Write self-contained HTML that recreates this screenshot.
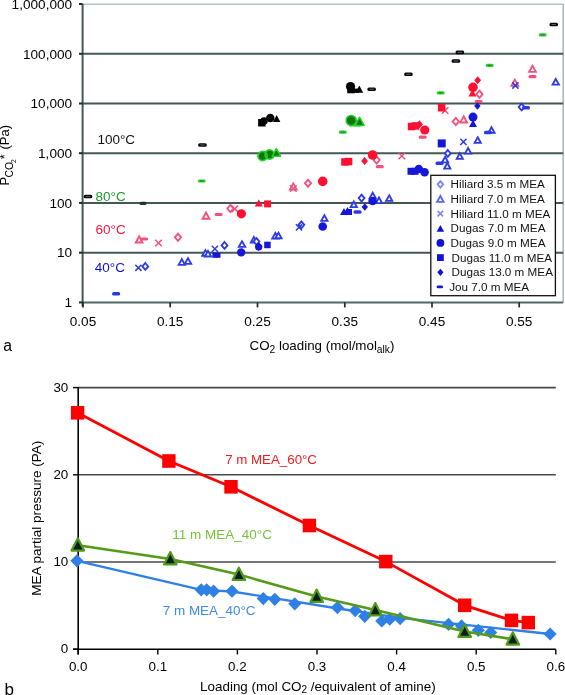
<!DOCTYPE html>
<html><head><meta charset="utf-8"><style>
html,body{margin:0;padding:0;background:#fff;}
svg{display:block;font-family:'Liberation Sans',sans-serif;filter:blur(0.35px);}

</style></head><body>
<svg width="565" height="695" viewBox="0 0 565 695" font-family="Liberation Sans, sans-serif">
<rect width="565" height="695" fill="#fff"/>
<line x1="82.6" y1="4.3" x2="563.2" y2="4.3" stroke="#b4c6c4" stroke-width="1.6"/>
<line x1="563.2" y1="4" x2="563.2" y2="302.4" stroke="#a9bdbd" stroke-width="1.6"/>
<line x1="82.6" y1="252.7" x2="563.2" y2="252.7" stroke="#435757" stroke-width="2"/>
<line x1="82.6" y1="202.9" x2="563.2" y2="202.9" stroke="#435757" stroke-width="2"/>
<line x1="82.6" y1="153.2" x2="563.2" y2="153.2" stroke="#435757" stroke-width="2"/>
<line x1="82.6" y1="103.5" x2="563.2" y2="103.5" stroke="#435757" stroke-width="2"/>
<line x1="82.6" y1="53.8" x2="563.2" y2="53.8" stroke="#435757" stroke-width="2"/>
<line x1="82.6" y1="302.4" x2="563.2" y2="302.4" stroke="#506868" stroke-width="2"/>
<line x1="82.6" y1="4" x2="82.6" y2="306.5" stroke="#435757" stroke-width="2"/>
<line x1="79" y1="302.4" x2="82.6" y2="302.4" stroke="#1e2a2a" stroke-width="2"/>
<line x1="79" y1="252.7" x2="82.6" y2="252.7" stroke="#1e2a2a" stroke-width="2"/>
<line x1="79" y1="202.9" x2="82.6" y2="202.9" stroke="#1e2a2a" stroke-width="2"/>
<line x1="79" y1="153.2" x2="82.6" y2="153.2" stroke="#1e2a2a" stroke-width="2"/>
<line x1="79" y1="103.5" x2="82.6" y2="103.5" stroke="#1e2a2a" stroke-width="2"/>
<line x1="79" y1="53.8" x2="82.6" y2="53.8" stroke="#1e2a2a" stroke-width="2"/>
<line x1="79" y1="4.0" x2="82.6" y2="4.0" stroke="#1e2a2a" stroke-width="2"/>
<line x1="83.0" y1="302.4" x2="83.0" y2="307.4" stroke="#1e2a2a" stroke-width="1.7"/>
<line x1="170.2" y1="302.4" x2="170.2" y2="307.4" stroke="#1e2a2a" stroke-width="1.7"/>
<line x1="257.5" y1="302.4" x2="257.5" y2="307.4" stroke="#1e2a2a" stroke-width="1.7"/>
<line x1="344.8" y1="302.4" x2="344.8" y2="307.4" stroke="#1e2a2a" stroke-width="1.7"/>
<line x1="432.0" y1="302.4" x2="432.0" y2="307.4" stroke="#1e2a2a" stroke-width="1.7"/>
<line x1="519.2" y1="302.4" x2="519.2" y2="307.4" stroke="#1e2a2a" stroke-width="1.7"/>
<text x="72.1" y="307.1" text-anchor="end" font-size="13.6">1</text>
<text x="72.1" y="257.4" text-anchor="end" font-size="13.6">10</text>
<text x="72.1" y="207.6" text-anchor="end" font-size="13.6">100</text>
<text x="72.1" y="157.9" text-anchor="end" font-size="13.6">1,000</text>
<text x="72.1" y="108.2" text-anchor="end" font-size="13.6">10,000</text>
<text x="72.1" y="58.5" text-anchor="end" font-size="13.6">100,000</text>
<text x="72.1" y="8.7" text-anchor="end" font-size="13.6">1,000,000</text>
<text x="83.0" y="326" text-anchor="middle" font-size="13.6">0.05</text>
<text x="170.2" y="326" text-anchor="middle" font-size="13.6">0.15</text>
<text x="257.5" y="326" text-anchor="middle" font-size="13.6">0.25</text>
<text x="344.8" y="326" text-anchor="middle" font-size="13.6">0.35</text>
<text x="432.0" y="326" text-anchor="middle" font-size="13.6">0.45</text>
<text x="519.2" y="326" text-anchor="middle" font-size="13.6">0.55</text>
<text x="249.5" y="350.2" font-size="13.35">CO<tspan font-size="10.3" dy="2.6">2</tspan><tspan dy="-2.6"> loading (mol/mol</tspan><tspan font-size="10.3" dy="2.3">alk</tspan><tspan dy="-2.3">)</tspan></text>
<g transform="rotate(-90)" font-size="13"><text x="-185.6" y="9.0">P</text><text x="-177.6" y="12.7" font-size="10.4">CO</text><text x="-162.9" y="15.9" font-size="6.6">2</text><text x="-159.2" y="8.6">*</text><text x="-149.6" y="9.0">(Pa)</text></g>
<text x="3.3" y="351.2" font-size="15.8">a</text>
<text x="97.4" y="143.8" font-size="13.5" fill="#111">100°C</text>
<text x="95.6" y="200.8" font-size="13.5" fill="#1c9a2a">80°C</text>
<text x="95.6" y="234.2" font-size="13.5" fill="#f5143f">60°C</text>
<text x="94.8" y="272.2" font-size="13.5" fill="#1010d0">40°C</text>
<rect x="83.8" y="194.7" width="8.5" height="3.6" rx="1.5" fill="#050505"/><rect x="85.8" y="195.9" width="4.5" height="1.2" fill="#555"/>
<rect x="198.2" y="143.2" width="8.5" height="3.6" rx="1.5" fill="#050505"/><rect x="200.2" y="144.4" width="4.5" height="1.2" fill="#555"/>
<rect x="367.4" y="87.5" width="8.5" height="3.6" rx="1.5" fill="#050505"/><rect x="369.4" y="88.7" width="4.5" height="1.2" fill="#555"/>
<rect x="404.2" y="72.5" width="8.5" height="3.6" rx="1.5" fill="#050505"/><rect x="406.2" y="73.7" width="4.5" height="1.2" fill="#555"/>
<rect x="451.6" y="59.2" width="8.5" height="3.6" rx="1.5" fill="#050505"/><rect x="453.6" y="60.4" width="4.5" height="1.2" fill="#555"/>
<rect x="455.6" y="50.6" width="8.5" height="3.6" rx="1.5" fill="#050505"/><rect x="457.6" y="51.8" width="4.5" height="1.2" fill="#555"/>
<rect x="549.5" y="22.7" width="8.5" height="3.6" rx="1.5" fill="#050505"/><rect x="551.5" y="23.9" width="4.5" height="1.2" fill="#555"/>
<rect x="258.1" y="119.0" width="7.5" height="7.5" fill="#050505"/>
<circle cx="264" cy="121" r="3.8" fill="#050505"/>
<circle cx="270.3" cy="118" r="4.2" fill="#050505"/>
<polygon points="276.6,115.1 280.4,121.9 272.9,121.9" fill="#050505"/>
<circle cx="350.5" cy="86.6" r="4.6" fill="#050505"/>
<rect x="347.2" y="85.8" width="7.5" height="7.5" fill="#050505"/>
<polygon points="359.3,85.6 363.3,92.8 355.3,92.8" fill="#050505"/>
<rect x="353" y="88.6" width="6" height="4.2" fill="#050505"/>
<rect x="139.5" y="201.7" width="7" height="3.4" rx="1.5" fill="#1d3a20"/>
<rect x="197.8" y="179.4" width="8" height="3.2" rx="1.5" fill="#2fd02f"/><rect x="199.8" y="180.4" width="4" height="1.2" fill="#1f8a25"/>
<rect x="338.8" y="130.5" width="8" height="3.2" rx="1.5" fill="#2fd02f"/><rect x="340.8" y="131.5" width="4" height="1.2" fill="#1f8a25"/>
<rect x="436.7" y="91.3" width="8" height="3.2" rx="1.5" fill="#2fd02f"/><rect x="438.7" y="92.3" width="4" height="1.2" fill="#1f8a25"/>
<rect x="485.7" y="63.8" width="8" height="3.2" rx="1.5" fill="#2fd02f"/><rect x="487.7" y="64.8" width="4" height="1.2" fill="#1f8a25"/>
<rect x="538.7" y="33.3" width="8" height="3.2" rx="1.5" fill="#2fd02f"/><rect x="540.7" y="34.3" width="4" height="1.2" fill="#1f8a25"/>
<path d="M258,156 a4.6,4.6 0 1 1 9.2,0 a4.6,4.6 0 0 1 -9.2,0 Z M265,154.5 a4.6,4.6 0 1 1 9.2,0 a4.6,4.6 0 0 1 -9.2,0 Z" fill="#0e7414" stroke="#22d022" stroke-width="1.6"/>
<polygon points="276.4,148.6 280.6,156.2 272.2,156.2" fill="#0e7414" stroke="#22d022" stroke-width="1.5" stroke-linejoin="round"/>
<rect x="350" y="120.8" width="10" height="5" fill="#0e7414" stroke="#22d022" stroke-width="1.4"/>
<circle cx="351.2" cy="120.4" r="5.0" fill="#0e7414" stroke="#22d022" stroke-width="1.5"/>
<polygon points="359.6,117.2 364.2,125.6 355,125.6" fill="#0e7414" stroke="#22d022" stroke-width="1.5" stroke-linejoin="round"/>
<polygon points="139.1,236.3 142.5,242.5 135.7,242.5" fill="#fff" stroke="#f2517c" stroke-width="1.85"/>
<polygon points="206.0,212.5 209.4,218.7 202.6,218.7" fill="#fff" stroke="#f2517c" stroke-width="1.85"/>
<polygon points="293.3,183.4 296.7,189.6 289.9,189.6" fill="#fff" stroke="#f2517c" stroke-width="1.85"/>
<polygon points="463.7,116.3 467.1,122.5 460.3,122.5" fill="#fff" stroke="#f2517c" stroke-width="1.85"/>
<polygon points="514.8,79.6 518.2,85.8 511.4,85.8" fill="#fff" stroke="#f2517c" stroke-width="1.85"/>
<polygon points="532.5,65.7 535.9,71.9 529.1,71.9" fill="#fff" stroke="#f2517c" stroke-width="1.85"/>
<polygon points="178.0,233.7 181.1,237.3 178.0,240.9 174.9,237.3" fill="#fff" stroke="#f2517c" stroke-width="1.85"/>
<polygon points="230.4,204.9 233.5,208.5 230.4,212.1 227.3,208.5" fill="#fff" stroke="#f2517c" stroke-width="1.85"/>
<polygon points="308.0,179.6 311.1,183.2 308.0,186.8 304.9,183.2" fill="#fff" stroke="#f2517c" stroke-width="1.85"/>
<polygon points="376.6,156.4 379.7,160.0 376.6,163.6 373.5,160.0" fill="#fff" stroke="#f2517c" stroke-width="1.85"/>
<polygon points="455.8,117.9 458.9,121.5 455.8,125.1 452.7,121.5" fill="#fff" stroke="#f2517c" stroke-width="1.85"/>
<polygon points="479.5,90.6 482.6,94.2 479.5,97.8 476.4,94.2" fill="#fff" stroke="#f2517c" stroke-width="1.85"/>
<path d="M155.2,239.7L161.8,246.3M161.8,239.7L155.2,246.3" stroke="#f2517c" stroke-width="1.5" fill="none"/>
<path d="M231.6,205.5L238.2,212.1M238.2,205.5L231.6,212.1" stroke="#f2517c" stroke-width="1.5" fill="none"/>
<path d="M290.0,185.2L296.6,191.8M296.6,185.2L290.0,191.8" stroke="#f2517c" stroke-width="1.5" fill="none"/>
<path d="M398.5,152.7L405.1,159.3M405.1,152.7L398.5,159.3" stroke="#f2517c" stroke-width="1.5" fill="none"/>
<path d="M441.8,107.2L448.4,113.8M448.4,107.2L441.8,113.8" stroke="#f2517c" stroke-width="1.5" fill="none"/>
<rect x="140.1" y="237.4" width="8" height="3.2" rx="1.5" fill="#f2517c"/>
<rect x="214.6" y="212.9" width="8" height="3.2" rx="1.5" fill="#f2517c"/>
<rect x="375.8" y="165.0" width="8" height="3.2" rx="1.5" fill="#f2517c"/>
<rect x="418.7" y="135.5" width="8" height="3.2" rx="1.5" fill="#f2517c"/>
<rect x="474.6" y="99.9" width="8" height="3.2" rx="1.5" fill="#f2517c"/>
<rect x="528.5" y="75.0" width="8" height="3.2" rx="1.5" fill="#f2517c"/>
<circle cx="241.4" cy="213.8" r="4.6" fill="#ff1030"/>
<polygon points="258.8,199.3 262.8,206.5 254.8,206.5" fill="#ff1030"/>
<rect x="264.1" y="200.4" width="7" height="7" fill="#ff1030"/>
<circle cx="322.7" cy="181.4" r="4.8" fill="#ff1030"/>
<rect x="341.2" y="158.2" width="7.5" height="7.5" fill="#ff1030"/>
<rect x="344.8" y="157.8" width="7.5" height="7.5" fill="#ff1030"/>
<polygon points="364.6,157.0 368.0,161.0 364.6,165.0 361.2,161.0" fill="#ff1030"/>
<circle cx="372.6" cy="155" r="4.8" fill="#ff1030"/>
<rect x="407.8" y="122.8" width="7.5" height="7.5" fill="#ff1030"/>
<rect x="411.8" y="122.2" width="7.5" height="7.5" fill="#ff1030"/>
<polygon points="419.5,120.2 422.9,124.2 419.5,128.2 416.1,124.2" fill="#ff1030"/>
<circle cx="424.8" cy="130" r="4.6" fill="#ff1030"/>
<rect x="437.9" y="104.0" width="7.5" height="7.5" fill="#ff1030"/>
<polygon points="477.7,76.2 481.1,80.2 477.7,84.2 474.3,80.2" fill="#ff1030"/>
<circle cx="473" cy="87.3" r="4.8" fill="#ff1030"/>
<polygon points="472.5,89.2 476.5,96.4 468.5,96.4" fill="#ff1030"/>
<polygon points="181.8,259.2 185.0,264.8 178.7,264.8" fill="#fff" stroke="#2c3ce0" stroke-width="1.85"/>
<polygon points="188.0,258.2 191.2,263.8 184.8,263.8" fill="#fff" stroke="#2c3ce0" stroke-width="1.85"/>
<polygon points="205.4,250.1 208.6,255.7 202.2,255.7" fill="#fff" stroke="#2c3ce0" stroke-width="1.85"/>
<polygon points="208.0,250.9 211.2,256.5 204.8,256.5" fill="#fff" stroke="#2c3ce0" stroke-width="1.85"/>
<polygon points="242.0,241.3 245.2,246.9 238.8,246.9" fill="#fff" stroke="#2c3ce0" stroke-width="1.85"/>
<polygon points="253.9,236.9 257.1,242.5 250.8,242.5" fill="#fff" stroke="#2c3ce0" stroke-width="1.85"/>
<polygon points="275.4,233.0 278.5,238.6 272.2,238.6" fill="#fff" stroke="#2c3ce0" stroke-width="1.85"/>
<polygon points="278.5,232.6 281.6,238.2 275.4,238.2" fill="#fff" stroke="#2c3ce0" stroke-width="1.85"/>
<polygon points="324.4,215.2 327.5,220.8 321.2,220.8" fill="#fff" stroke="#2c3ce0" stroke-width="1.85"/>
<polygon points="353.8,201.5 356.9,207.1 350.7,207.1" fill="#fff" stroke="#2c3ce0" stroke-width="1.85"/>
<polygon points="372.7,192.7 375.8,198.3 369.6,198.3" fill="#fff" stroke="#2c3ce0" stroke-width="1.85"/>
<polygon points="379.0,197.5 382.1,203.1 375.9,203.1" fill="#fff" stroke="#2c3ce0" stroke-width="1.85"/>
<polygon points="389.2,195.3 392.3,200.9 386.1,200.9" fill="#fff" stroke="#2c3ce0" stroke-width="1.85"/>
<polygon points="445.1,156.8 448.2,162.4 442.0,162.4" fill="#fff" stroke="#2c3ce0" stroke-width="1.85"/>
<polygon points="447.3,163.0 450.4,168.6 444.2,168.6" fill="#fff" stroke="#2c3ce0" stroke-width="1.85"/>
<polygon points="459.8,153.2 462.9,158.8 456.7,158.8" fill="#fff" stroke="#2c3ce0" stroke-width="1.85"/>
<polygon points="468.1,148.0 471.2,153.6 465.0,153.6" fill="#fff" stroke="#2c3ce0" stroke-width="1.85"/>
<polygon points="477.7,137.3 480.8,142.9 474.6,142.9" fill="#fff" stroke="#2c3ce0" stroke-width="1.85"/>
<polygon points="491.5,127.2 494.6,132.8 488.4,132.8" fill="#fff" stroke="#2c3ce0" stroke-width="1.85"/>
<polygon points="555.7,79.0 558.9,84.6 552.6,84.6" fill="#fff" stroke="#2c3ce0" stroke-width="1.85"/>
<polygon points="145.3,263.0 148.2,266.4 145.3,269.8 142.4,266.4" fill="#fff" stroke="#2c3ce0" stroke-width="1.85"/>
<polygon points="224.5,242.0 227.4,245.4 224.5,248.8 221.6,245.4" fill="#fff" stroke="#2c3ce0" stroke-width="1.85"/>
<polygon points="256.5,238.1 259.4,241.5 256.5,244.9 253.6,241.5" fill="#fff" stroke="#2c3ce0" stroke-width="1.85"/>
<polygon points="301.4,221.4 304.3,224.8 301.4,228.2 298.5,224.8" fill="#fff" stroke="#2c3ce0" stroke-width="1.85"/>
<polygon points="361.6,194.7 364.5,198.1 361.6,201.5 358.7,198.1" fill="#fff" stroke="#2c3ce0" stroke-width="1.85"/>
<polygon points="447.8,150.0 450.7,153.4 447.8,156.8 444.9,153.4" fill="#fff" stroke="#2c3ce0" stroke-width="1.85"/>
<polygon points="521.6,103.6 524.5,107.0 521.6,110.4 518.7,107.0" fill="#fff" stroke="#2c3ce0" stroke-width="1.85"/>
<path d="M135.3,264.7L141.5,270.9M141.5,264.7L135.3,270.9" stroke="#2c3ce0" stroke-width="1.5" fill="none"/>
<path d="M211.8,245.8L218.0,252.0M218.0,245.8L211.8,252.0" stroke="#2c3ce0" stroke-width="1.5" fill="none"/>
<path d="M295.9,224.3L302.1,230.5M302.1,224.3L295.9,230.5" stroke="#2c3ce0" stroke-width="1.5" fill="none"/>
<path d="M460.3,138.8L466.5,145.0M466.5,138.8L460.3,145.0" stroke="#2c3ce0" stroke-width="1.5" fill="none"/>
<path d="M512.3,82.4L518.5,88.6M518.5,82.4L512.3,88.6" stroke="#2c3ce0" stroke-width="1.5" fill="none"/>
<rect x="112.1" y="292.1" width="8" height="3.4" rx="1.5" fill="#2a3ae0"/>
<rect x="353.5" y="210.3" width="8" height="3.4" rx="1.5" fill="#2a3ae0"/>
<rect x="484.0" y="130.8" width="8" height="3.4" rx="1.5" fill="#2a3ae0"/>
<rect x="522.0" y="106.0" width="8" height="3.4" rx="1.5" fill="#2a3ae0"/>
<rect x="435.5" y="161.6" width="8" height="3.4" rx="1.5" fill="#2a3ae0"/>
<rect x="212.4" y="252.8" width="5" height="5" fill="#1616d6"/>
<rect x="215.5" y="252.8" width="5" height="5" fill="#1616d6"/>
<circle cx="241.2" cy="252.4" r="4.2" fill="#1616d6"/>
<polygon points="258.7,242.0 262.5,246.5 258.7,251.0 254.9,246.5" fill="#1616d6"/>
<circle cx="258.7" cy="247" r="3.6" fill="#1616d6"/>
<rect x="264.2" y="241.7" width="6.5" height="6.5" fill="#1616d6"/>
<circle cx="322.7" cy="226.5" r="4.3" fill="#1616d6"/>
<polygon points="344.0,207.9 348.0,215.1 340.0,215.1" fill="#1616d6"/>
<polygon points="347.5,206.9 351.5,214.1 343.5,214.1" fill="#1616d6"/>
<rect x="346.0" y="209.0" width="6" height="6" fill="#1616d6"/>
<polygon points="364.8,203.2 368.0,207.0 364.8,210.8 361.6,207.0" fill="#1616d6"/>
<circle cx="372.6" cy="201" r="4.3" fill="#1616d6"/>
<rect x="407.5" y="167.8" width="7" height="7" fill="#1616d6"/>
<rect x="411.5" y="167.8" width="7" height="7" fill="#1616d6"/>
<circle cx="418.8" cy="169" r="4.3" fill="#1616d6"/>
<circle cx="424.6" cy="172.3" r="4.3" fill="#1616d6"/>
<rect x="437.7" y="139.4" width="8" height="8" fill="#1616d6"/>
<circle cx="473" cy="117.1" r="4.5" fill="#1616d6"/>
<polygon points="473.0,119.7 477.0,126.9 469.0,126.9" fill="#1616d6"/>
<polygon points="477.4,102.2 480.6,106.0 477.4,109.8 474.2,106.0" fill="#1616d6"/>
<rect x="430.8" y="175.3" width="124.6" height="120.4" fill="#fff" stroke="#111" stroke-width="1.3"/>
<polygon points="440.4,181.1 443.2,184.3 440.4,187.6 437.6,184.3" fill="#fff" stroke="#7a86ee" stroke-width="1.85"/>
<text x="450.6" y="188.4" font-size="11.7" fill="#111">Hiliard 3.5 m MEA</text>
<polygon points="440.4,196.0 443.6,201.9 437.1,201.9" fill="#fff" stroke="#5a66ee" stroke-width="1.85"/>
<text x="450.6" y="203.1" font-size="11.7" fill="#111">Hiliard 7.0 m MEA</text>
<path d="M437.6,210.9L443.1,216.4M443.1,210.9L437.6,216.4" stroke="#7a86ee" stroke-width="1.5" fill="none"/>
<text x="450.6" y="217.7" font-size="11.7" fill="#111">Hiliard 11.0 m MEA</text>
<polygon points="440.4,224.9 444.2,231.7 436.6,231.7" fill="#1010d8"/>
<text x="450.6" y="232.4" font-size="11.7" fill="#111">Dugas 7.0 m MEA</text>
<circle cx="440.4" cy="242.94" r="3.9" fill="#1010d8"/>
<text x="450.6" y="247.0" font-size="11.7" fill="#111">Dugas 9.0 m MEA</text>
<rect x="437.0" y="254.2" width="6.8" height="6.8" fill="#1010d8"/>
<text x="451.6" y="261.7" font-size="11.7" fill="#111">Dugas 11.0 m MEA</text>
<polygon points="440.4,268.7 443.5,272.3 440.4,275.9 437.3,272.3" fill="#1010d8"/>
<text x="451.6" y="276.4" font-size="11.7" fill="#111">Dugas 13.0 m MEA</text>
<rect x="436.6" y="285.6" width="6.5" height="2.6" rx="1.5" fill="#1818d8"/>
<text x="449.2" y="291.0" font-size="11.7" fill="#111">Jou 7.0 m MEA</text>
<line x1="78.2" y1="562.0" x2="555.8" y2="562.0" stroke="#484848" stroke-width="1.6"/>
<line x1="78.2" y1="474.8" x2="555.8" y2="474.8" stroke="#484848" stroke-width="1.6"/>
<line x1="78.2" y1="387.6" x2="555.8" y2="387.6" stroke="#484848" stroke-width="1.6"/>
<line x1="78.2" y1="387.1" x2="78.2" y2="654.5" stroke="#000" stroke-width="1.6"/>
<line x1="73" y1="649.2" x2="555.8" y2="649.2" stroke="#000" stroke-width="1.6"/>
<line x1="73" y1="649.2" x2="78.2" y2="649.2" stroke="#000" stroke-width="1.4"/>
<text x="68.3" y="653.4" text-anchor="end" font-size="13.4">0</text>
<line x1="73" y1="562.0" x2="78.2" y2="562.0" stroke="#000" stroke-width="1.4"/>
<text x="68.3" y="566.2" text-anchor="end" font-size="13.4">10</text>
<line x1="73" y1="474.8" x2="78.2" y2="474.8" stroke="#000" stroke-width="1.4"/>
<text x="68.3" y="479.0" text-anchor="end" font-size="13.4">20</text>
<line x1="73" y1="387.6" x2="78.2" y2="387.6" stroke="#000" stroke-width="1.4"/>
<text x="68.3" y="391.8" text-anchor="end" font-size="13.4">30</text>
<line x1="78.2" y1="649.2" x2="78.2" y2="654.5" stroke="#000" stroke-width="1.4"/>
<text x="78.2" y="670.8" text-anchor="middle" font-size="13.4">0.0</text>
<line x1="157.8" y1="649.2" x2="157.8" y2="654.5" stroke="#000" stroke-width="1.4"/>
<text x="157.8" y="670.8" text-anchor="middle" font-size="13.4">0.1</text>
<line x1="237.4" y1="649.2" x2="237.4" y2="654.5" stroke="#000" stroke-width="1.4"/>
<text x="237.4" y="670.8" text-anchor="middle" font-size="13.4">0.2</text>
<line x1="317.0" y1="649.2" x2="317.0" y2="654.5" stroke="#000" stroke-width="1.4"/>
<text x="317.0" y="670.8" text-anchor="middle" font-size="13.4">0.3</text>
<line x1="396.6" y1="649.2" x2="396.6" y2="654.5" stroke="#000" stroke-width="1.4"/>
<text x="396.6" y="670.8" text-anchor="middle" font-size="13.4">0.4</text>
<line x1="476.2" y1="649.2" x2="476.2" y2="654.5" stroke="#000" stroke-width="1.4"/>
<text x="476.2" y="670.8" text-anchor="middle" font-size="13.4">0.5</text>
<line x1="555.8" y1="649.2" x2="555.8" y2="654.5" stroke="#000" stroke-width="1.4"/>
<text x="555.8" y="670.8" text-anchor="middle" font-size="13.4">0.6</text>
<text x="200" y="690.6" font-size="13.45">Loading (mol CO<tspan font-size="10" dy="2.6">2</tspan><tspan dy="-2.6"> /equivalent of amine)</tspan></text>
<text transform="translate(40.9,518.3) rotate(-90)" text-anchor="middle" font-size="13.5">MEA partial pressure (PA)</text>
<text x="4.4" y="694.8" font-size="17">b</text>
<polyline points="76.9,560.8 201.2,589.8 232.0,591.5 338.0,608.5 400.0,617.8 550.1,634.0" fill="none" stroke="#2f80e6" stroke-width="2.3" stroke-linejoin="round"/>
<polygon points="76.9,554.2 83.5,560.8 76.9,567.4 70.3,560.8" fill="#2f80e6"/>
<polygon points="201.2,583.2 207.8,589.8 201.2,596.4 194.6,589.8" fill="#2f80e6"/>
<polygon points="206.7,583.2 213.3,589.8 206.7,596.4 200.1,589.8" fill="#2f80e6"/>
<polygon points="213.6,584.6 220.2,591.2 213.6,597.8 207.0,591.2" fill="#2f80e6"/>
<polygon points="232.0,584.6 238.6,591.2 232.0,597.8 225.4,591.2" fill="#2f80e6"/>
<polygon points="263.3,592.0 269.9,598.6 263.3,605.2 256.7,598.6" fill="#2f80e6"/>
<polygon points="274.8,592.7 281.4,599.3 274.8,605.9 268.2,599.3" fill="#2f80e6"/>
<polygon points="294.8,597.2 301.4,603.8 294.8,610.4 288.2,603.8" fill="#2f80e6"/>
<polygon points="337.4,601.0 344.0,607.6 337.4,614.2 330.8,607.6" fill="#2f80e6"/>
<polygon points="355.2,604.0 361.8,610.6 355.2,617.2 348.6,610.6" fill="#2f80e6"/>
<polygon points="364.7,609.7 371.3,616.3 364.7,622.9 358.1,616.3" fill="#2f80e6"/>
<polygon points="381.8,614.4 388.4,621.0 381.8,627.6 375.2,621.0" fill="#2f80e6"/>
<polygon points="389.7,612.6 396.3,619.2 389.7,625.8 383.1,619.2" fill="#2f80e6"/>
<polygon points="400.1,612.0 406.7,618.6 400.1,625.2 393.5,618.6" fill="#2f80e6"/>
<polygon points="448.5,617.8 455.1,624.4 448.5,631.0 441.9,624.4" fill="#2f80e6"/>
<polygon points="461.5,619.3 468.1,625.9 461.5,632.5 454.9,625.9" fill="#2f80e6"/>
<polygon points="478.3,623.7 484.9,630.3 478.3,636.9 471.7,630.3" fill="#2f80e6"/>
<polygon points="490.7,625.9 497.3,632.5 490.7,639.1 484.1,632.5" fill="#2f80e6"/>
<polygon points="550.1,627.4 556.7,634.0 550.1,640.6 543.5,634.0" fill="#2f80e6"/>
<polyline points="77.8,545.2 170.3,559.0 238.9,574.6 316.7,596.5 375.3,610.0 464.7,631.5 512.8,639.2" fill="none" stroke="#559a18" stroke-width="2.6" stroke-linejoin="round"/>
<polygon points="77.8,538.3 84.1,550.6 71.5,550.6" fill="#0c1e24" stroke="#4f9a16" stroke-width="2.2" stroke-linejoin="round"/>
<polygon points="170.3,552.1 176.6,564.4 164.0,564.4" fill="#0c1e24" stroke="#4f9a16" stroke-width="2.2" stroke-linejoin="round"/>
<polygon points="238.9,567.7 245.2,580.0 232.6,580.0" fill="#0c1e24" stroke="#4f9a16" stroke-width="2.2" stroke-linejoin="round"/>
<polygon points="316.7,589.6 323.0,601.9 310.4,601.9" fill="#0c1e24" stroke="#4f9a16" stroke-width="2.2" stroke-linejoin="round"/>
<polygon points="375.3,603.1 381.6,615.4 369.0,615.4" fill="#0c1e24" stroke="#4f9a16" stroke-width="2.2" stroke-linejoin="round"/>
<polygon points="464.7,624.6 471.0,636.9 458.4,636.9" fill="#0c1e24" stroke="#4f9a16" stroke-width="2.2" stroke-linejoin="round"/>
<polygon points="512.8,632.3 519.1,644.6 506.5,644.6" fill="#0c1e24" stroke="#4f9a16" stroke-width="2.2" stroke-linejoin="round"/>
<polyline points="77.6,412.8 168.9,461.0 231.0,486.8 309.4,525.5 385.8,561.6 464.7,605.3 511.5,620.4 528.3,622.6" fill="none" stroke="#ff0000" stroke-width="2.8" stroke-linejoin="round"/>
<rect x="70.9" y="406.0" width="13.4" height="13.6" fill="#ff0000"/>
<rect x="162.2" y="454.2" width="13.4" height="13.6" fill="#ff0000"/>
<rect x="224.3" y="480.0" width="13.4" height="13.6" fill="#ff0000"/>
<rect x="302.7" y="518.7" width="13.4" height="13.6" fill="#ff0000"/>
<rect x="379.1" y="554.8" width="13.4" height="13.6" fill="#ff0000"/>
<rect x="458.0" y="598.5" width="13.4" height="13.6" fill="#ff0000"/>
<rect x="504.8" y="613.6" width="13.4" height="13.6" fill="#ff0000"/>
<rect x="521.6" y="615.8" width="13.4" height="13.6" fill="#ff0000"/>
<text x="225.2" y="464.1" font-size="13.3" fill="#ee1c1c">7 m MEA_60°C</text>
<text x="172.2" y="539.3" font-size="13.5" fill="#74c33a">11 m MEA_40°C</text>
<text x="162.8" y="614.6" font-size="13.45" fill="#3f8be2">7 m MEA_40°C</text>
</svg></body></html>
